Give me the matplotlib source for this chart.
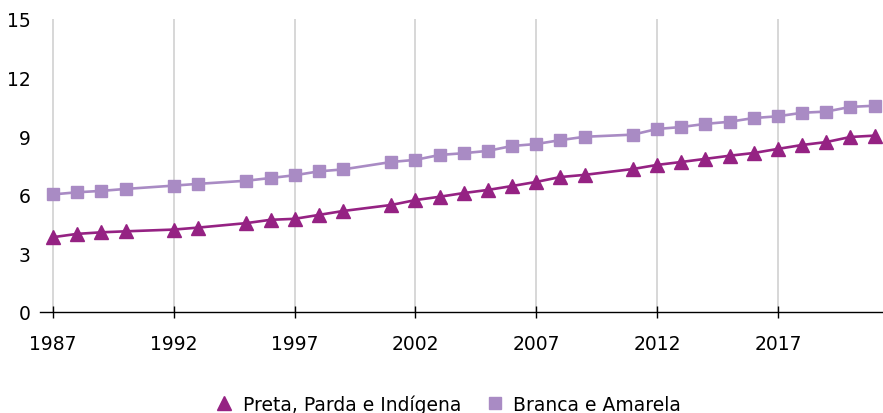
import matplotlib.pyplot as plt
from matplotlib.lines import Line2D

anos = [1987, 1988, 1989, 1990, 1992, 1993, 1995, 1996, 1997, 1998, 1999,
        2001, 2002, 2003, 2004, 2005, 2006, 2007, 2008, 2009,
        2011, 2012, 2013, 2014, 2015, 2016, 2017, 2018, 2019, 2020, 2021]

preta = [3.83, 4.0, 4.08, 4.13, 4.22, 4.32, 4.55, 4.72, 4.77, 4.97, 5.17,
         5.48, 5.73, 5.9, 6.09, 6.25, 6.45, 6.66, 6.91, 7.02,
         7.32, 7.53, 7.68, 7.84, 8.0, 8.14, 8.35, 8.55, 8.7, 8.96, 9.03]

branca = [6.02, 6.13, 6.2, 6.3, 6.47, 6.56, 6.72, 6.86, 7.0, 7.2, 7.3,
          7.68, 7.79, 8.04, 8.13, 8.25, 8.5, 8.6, 8.8, 8.97,
          9.08, 9.37, 9.47, 9.63, 9.74, 9.93, 10.02, 10.2, 10.26, 10.5, 10.56]

cor_preta = "#952283"
cor_branca = "#a98bc4"

fig = plt.figure(figsize=(8.83, 4.14), dpi=100)
ax = fig.add_axes([40/883, 1 - 313/414, 843/883, 293/414])

ax.plot(anos, branca, color=cor_branca, lw=1.9, marker="s", ms=9, zorder=3)
ax.plot(anos, preta, color=cor_preta, lw=1.9, marker="^", ms=9.5, zorder=4)

ax.set_xlim(1986.46, 2021.35)
ax.set_ylim(0, 15)
ax.set_xticks(range(1987, 2018, 5))
ax.set_yticks(range(0, 16, 3))
ax.grid(axis="x", color="#d4d4d4", lw=1.3)
ax.set_axisbelow(True)
for s in ["top", "right", "left"]:
    ax.spines[s].set_visible(False)
ax.spines["bottom"].set_color("black")
ax.spines["bottom"].set_linewidth(1.0)
ax.tick_params(axis="x", direction="inout", length=9, width=1, labelsize=13.5, pad=11)
ax.tick_params(axis="y", length=0, labelsize=13.5, pad=7)

h1 = Line2D([], [], color=cor_preta, marker="^", ls="none", ms=9.5)
h2 = Line2D([], [], color=cor_branca, marker="s", ls="none", ms=9)
fig.legend([h1, h2], ["Preta, Parda e Indígena", "Branca e Amarela"],
           loc="center", bbox_to_anchor=(447/883, 1 - 405/414), ncol=2,
           frameon=False, fontsize=13.5, handletextpad=0.4, columnspacing=1.2,
           handlelength=1.2)

fig.savefig("out.png", dpi=100)
